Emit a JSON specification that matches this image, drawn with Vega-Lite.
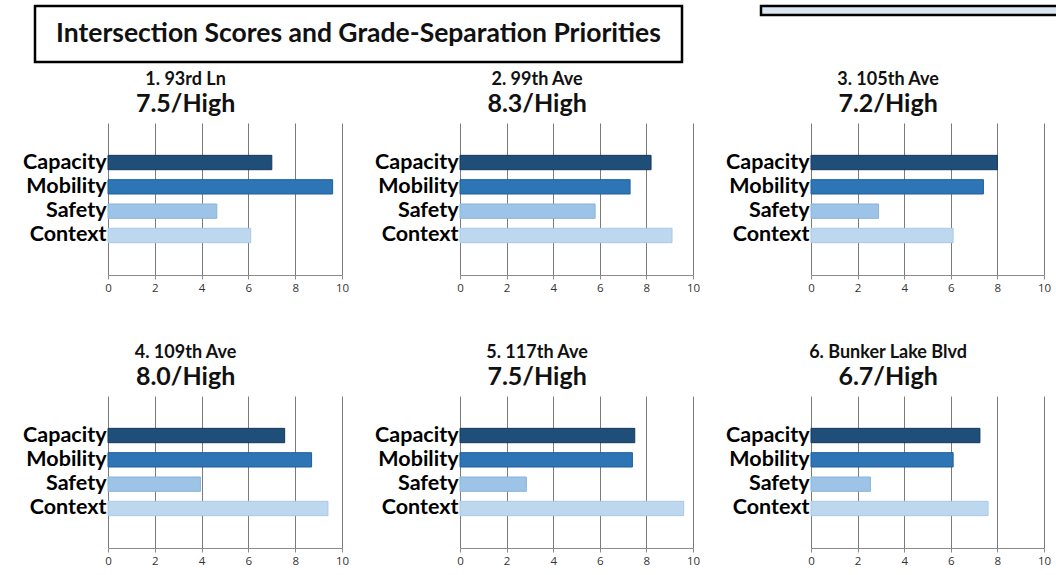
{
  "$schema": "https://vega.github.io/schema/vega-lite/v6.json",
  "padding": {"left": 12, "top": 0, "right": 0, "bottom": 0},
  "background": "white",
  "config": {
    "view": {"stroke": null},
    "font": "Lato",
    "title": {"font": "Lato", "fontSize": 18, "fontWeight": "bold", "color": "#111", "subtitleFont": "Lato", "subtitleFontSize": 25, "subtitleFontWeight": "bold", "subtitleColor": "#111", "subtitlePadding": 3, "offset": 6, "anchor": "middle", "frame": "bounds"},
    "axisY": {"title": null, "ticks": false, "domain": false, "labelFontSize": 21.5, "labelFontWeight": "bold", "labelColor": "#000", "labelPadding": 2, "labelFont": "Lato", "labelExpr": "indexof(['Capacity','Mobility','Safety','Context'], datum.label) >= 0 ? datum.label : ''"},
    "axisX": {"title": null, "values": [0, 2, 4, 6, 8, 10], "grid": true, "gridColor": "#7a7a7a", "gridOpacity": 1, "domainColor": "#8a8a8a", "tickColor": "#8a8a8a", "tickSize": 4, "labelFlush": false, "labelFontSize": 11.5, "labelColor": "#333", "labelFont": "Open Sans", "labelPadding": 3}
  },
  "datasets": {
    "scores": [
      {"panel": 1, "criterion": "Capacity", "score": 7.0},
      {"panel": 1, "criterion": "Mobility", "score": 9.6},
      {"panel": 1, "criterion": "Safety", "score": 4.65},
      {"panel": 1, "criterion": "Context", "score": 6.1},
      {"panel": 2, "criterion": "Capacity", "score": 8.2},
      {"panel": 2, "criterion": "Mobility", "score": 7.3},
      {"panel": 2, "criterion": "Safety", "score": 5.8},
      {"panel": 2, "criterion": "Context", "score": 9.1},
      {"panel": 3, "criterion": "Capacity", "score": 8.0},
      {"panel": 3, "criterion": "Mobility", "score": 7.4},
      {"panel": 3, "criterion": "Safety", "score": 2.9},
      {"panel": 3, "criterion": "Context", "score": 6.1},
      {"panel": 4, "criterion": "Capacity", "score": 7.55},
      {"panel": 4, "criterion": "Mobility", "score": 8.7},
      {"panel": 4, "criterion": "Safety", "score": 3.95},
      {"panel": 4, "criterion": "Context", "score": 9.4},
      {"panel": 5, "criterion": "Capacity", "score": 7.5},
      {"panel": 5, "criterion": "Mobility", "score": 7.4},
      {"panel": 5, "criterion": "Safety", "score": 2.85},
      {"panel": 5, "criterion": "Context", "score": 9.6},
      {"panel": 6, "criterion": "Capacity", "score": 7.25},
      {"panel": 6, "criterion": "Mobility", "score": 6.1},
      {"panel": 6, "criterion": "Safety", "score": 2.55},
      {"panel": 6, "criterion": "Context", "score": 7.6}
    ]
  },
  "spacing": 7,
  "vconcat": [
    {
      "hconcat": [
        {
          "hconcat": [
            {"width": 1, "height": 1, "view": {"fill": "white"}, "data": {"values": [{"t": ""}]}, "mark": {"type": "text"}, "encoding": {"text": {"field": "t"}}},
            {
              "width": 647, "height": 56,
              "view": {"stroke": "#000", "strokeWidth": 2.5, "fill": "white"},
              "data": {"values": [{"t": "Intersection Scores and Grade-Separation Priorities"}]},
              "mark": {"type": "text", "font": "Lato", "fontSize": 26.5, "fontWeight": "bold", "color": "#111", "align": "center", "baseline": "middle"},
              "encoding": {"text": {"field": "t"}}
            }
          ],
          "spacing": 20
        },
        {
          "width": 297, "height": 9,
          "view": {"stroke": "#000", "strokeWidth": 2.5, "fill": "#dce6f0"},
          "data": {"values": [{"t": ""}]},
          "mark": {"type": "text"},
          "encoding": {"text": {"field": "t"}}
        }
      ],
      "spacing": 75
    },
    {
      "vconcat": [
        {
          "hconcat": [
            {"width": 1, "height": 1, "view": {"fill": "white"}, "data": {"values": [{"t": ""}]}, "mark": {"type": "text"}, "encoding": {"text": {"field": "t"}}},
            {
              "hconcat": [
                {"title": {"text": "1. 93rd Ln", "subtitle": "7.5/High"}, "transform": [{"filter": "datum.panel == 1"}], "width": 234, "height": 152, "data": {"name": "scores"},
                 "mark": {"type": "bar", "strokeWidth": 1}, "encoding": {
                  "y": {"field": "criterion", "type": "nominal", "scale": {"domain": ["top", "Capacity", "Mobility", "Safety", "Context", "bottom"], "paddingInner": 0.41, "paddingOuter": 0.33}},
                  "x": {"field": "score", "type": "quantitative", "scale": {"domain": [0, 10], "nice": false}},
                  "color": {"field": "criterion", "type": "nominal", "legend": null, "scale": {"domain": ["Capacity", "Mobility", "Safety", "Context"], "range": ["#1f4e79", "#2e75b6", "#9dc3e6", "#bdd7ee"]}},
                  "stroke": {"field": "criterion", "type": "nominal", "legend": null, "scale": {"domain": ["Capacity", "Mobility", "Safety", "Context"], "range": ["#17375e", "#1f5fa0", "#8ab4dc", "#a9c9e8"]}}
                 }},
                {"title": {"text": "2. 99th Ave", "subtitle": "8.3/High"}, "transform": [{"filter": "datum.panel == 2"}], "width": 233, "height": 152, "data": {"name": "scores"},
                 "mark": {"type": "bar", "strokeWidth": 1}, "encoding": {
                  "y": {"field": "criterion", "type": "nominal", "scale": {"domain": ["top", "Capacity", "Mobility", "Safety", "Context", "bottom"], "paddingInner": 0.41, "paddingOuter": 0.33}},
                  "x": {"field": "score", "type": "quantitative", "scale": {"domain": [0, 10], "nice": false}},
                  "color": {"field": "criterion", "type": "nominal", "legend": null, "scale": {"domain": ["Capacity", "Mobility", "Safety", "Context"], "range": ["#1f4e79", "#2e75b6", "#9dc3e6", "#bdd7ee"]}},
                  "stroke": {"field": "criterion", "type": "nominal", "legend": null, "scale": {"domain": ["Capacity", "Mobility", "Safety", "Context"], "range": ["#17375e", "#1f5fa0", "#8ab4dc", "#a9c9e8"]}}
                 }},
                {"title": {"text": "3. 105th Ave", "subtitle": "7.2/High"}, "transform": [{"filter": "datum.panel == 3"}], "width": 233, "height": 152, "data": {"name": "scores"},
                 "mark": {"type": "bar", "strokeWidth": 1}, "encoding": {
                  "y": {"field": "criterion", "type": "nominal", "scale": {"domain": ["top", "Capacity", "Mobility", "Safety", "Context", "bottom"], "paddingInner": 0.41, "paddingOuter": 0.33}},
                  "x": {"field": "score", "type": "quantitative", "scale": {"domain": [0, 10], "nice": false}},
                  "color": {"field": "criterion", "type": "nominal", "legend": null, "scale": {"domain": ["Capacity", "Mobility", "Safety", "Context"], "range": ["#1f4e79", "#2e75b6", "#9dc3e6", "#bdd7ee"]}},
                  "stroke": {"field": "criterion", "type": "nominal", "legend": null, "scale": {"domain": ["Capacity", "Mobility", "Safety", "Context"], "range": ["#17375e", "#1f5fa0", "#8ab4dc", "#a9c9e8"]}}
                 }}
              ],
              "spacing": 25
            }
          ],
          "spacing": 9
        },
        {
          "hconcat": [
            {"width": 1, "height": 1, "view": {"fill": "white"}, "data": {"values": [{"t": ""}]}, "mark": {"type": "text"}, "encoding": {"text": {"field": "t"}}},
            {
              "hconcat": [
                {"title": {"text": "4. 109th Ave", "subtitle": "8.0/High"}, "transform": [{"filter": "datum.panel == 4"}], "width": 234, "height": 152, "data": {"name": "scores"},
                 "mark": {"type": "bar", "strokeWidth": 1}, "encoding": {
                  "y": {"field": "criterion", "type": "nominal", "scale": {"domain": ["top", "Capacity", "Mobility", "Safety", "Context", "bottom"], "paddingInner": 0.41, "paddingOuter": 0.33}},
                  "x": {"field": "score", "type": "quantitative", "scale": {"domain": [0, 10], "nice": false}},
                  "color": {"field": "criterion", "type": "nominal", "legend": null, "scale": {"domain": ["Capacity", "Mobility", "Safety", "Context"], "range": ["#1f4e79", "#2e75b6", "#9dc3e6", "#bdd7ee"]}},
                  "stroke": {"field": "criterion", "type": "nominal", "legend": null, "scale": {"domain": ["Capacity", "Mobility", "Safety", "Context"], "range": ["#17375e", "#1f5fa0", "#8ab4dc", "#a9c9e8"]}}
                 }},
                {"title": {"text": "5. 117th Ave", "subtitle": "7.5/High"}, "transform": [{"filter": "datum.panel == 5"}], "width": 233, "height": 152, "data": {"name": "scores"},
                 "mark": {"type": "bar", "strokeWidth": 1}, "encoding": {
                  "y": {"field": "criterion", "type": "nominal", "scale": {"domain": ["top", "Capacity", "Mobility", "Safety", "Context", "bottom"], "paddingInner": 0.41, "paddingOuter": 0.33}},
                  "x": {"field": "score", "type": "quantitative", "scale": {"domain": [0, 10], "nice": false}},
                  "color": {"field": "criterion", "type": "nominal", "legend": null, "scale": {"domain": ["Capacity", "Mobility", "Safety", "Context"], "range": ["#1f4e79", "#2e75b6", "#9dc3e6", "#bdd7ee"]}},
                  "stroke": {"field": "criterion", "type": "nominal", "legend": null, "scale": {"domain": ["Capacity", "Mobility", "Safety", "Context"], "range": ["#17375e", "#1f5fa0", "#8ab4dc", "#a9c9e8"]}}
                 }},
                {"title": {"text": "6. Bunker Lake Blvd", "subtitle": "6.7/High"}, "transform": [{"filter": "datum.panel == 6"}], "width": 233, "height": 152, "data": {"name": "scores"},
                 "mark": {"type": "bar", "strokeWidth": 1}, "encoding": {
                  "y": {"field": "criterion", "type": "nominal", "scale": {"domain": ["top", "Capacity", "Mobility", "Safety", "Context", "bottom"], "paddingInner": 0.41, "paddingOuter": 0.33}},
                  "x": {"field": "score", "type": "quantitative", "scale": {"domain": [0, 10], "nice": false}},
                  "color": {"field": "criterion", "type": "nominal", "legend": null, "scale": {"domain": ["Capacity", "Mobility", "Safety", "Context"], "range": ["#1f4e79", "#2e75b6", "#9dc3e6", "#bdd7ee"]}},
                  "stroke": {"field": "criterion", "type": "nominal", "legend": null, "scale": {"domain": ["Capacity", "Mobility", "Safety", "Context"], "range": ["#17375e", "#1f5fa0", "#8ab4dc", "#a9c9e8"]}}
                 }}
              ],
              "spacing": 25
            }
          ],
          "spacing": 9
        }
      ],
      "spacing": 50
    }
  ]
}
